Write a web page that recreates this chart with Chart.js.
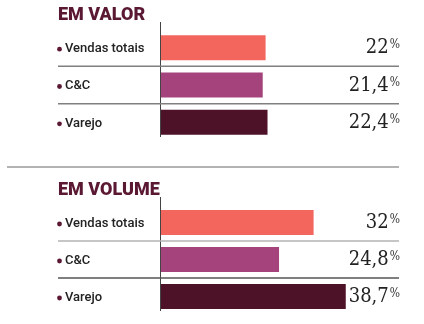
<!DOCTYPE html>
<html>
<head>
<meta charset="utf-8">
<script src="https://cdn.jsdelivr.net/npm/chart.js@4"></script>
<style>
  body { margin: 0; background: #fff; }
  .wrap { position: relative; width: 424px; height: 324px; }
  canvas { position: absolute; left: 0; }
  #panel1 { top: 0; }
  #panel2 { top: 175px; }
  .divider { position: absolute; left: 7px; top: 166px; width: 392px; height: 2px; background: #b3b3b3; }
</style>
</head>
<body>
<div class="wrap">
  <canvas id="panel1" width="424" height="150"></canvas>
  <div class="divider"></div>
  <canvas id="panel2" width="424" height="149"></canvas>
</div>
<script>
// data
const categories = ['Vendas totais', 'C&C', 'Varejo'];
const valorValues = [22, 21.4, 22.4];
const volumeValues = [32, 24.8, 38.7];
const panelTitles = ['EM VALOR', 'EM VOLUME'];

const barColors = ['#f2665e', '#a4437c', '#4e1228'];
const maroon = '#5a1832';

function fmt(v) {
  return String(v).replace('.', ',');
}

// labels, title, separators and values drawn around the bars
const decor = {
  id: 'decor',
  afterDraw(chart, args, opts) {
    const ctx = chart.ctx;
    const area = chart.chartArea;
    const yScale = chart.scales.y;
    const values = chart.data.datasets[0].data;
    ctx.save();

    // title
    ctx.fillStyle = maroon;
    ctx.font = '900 18px Roboto';
    ctx.textBaseline = 'alphabetic';
    ctx.textAlign = 'left';
    ctx.fillText(opts.title, 58, 20);

    // axis line
    ctx.strokeStyle = '#444';
    ctx.lineWidth = 1;
    ctx.beginPath();
    ctx.moveTo(area.left + 0.5, area.top - 7);
    ctx.lineTo(area.left + 0.5, area.bottom - 4);
    ctx.stroke();

    // separators between rows
    for (let i = 0; i < categories.length - 1; i++) {
      const y = (yScale.getPixelForValue(i) + yScale.getPixelForValue(i + 1)) / 2;
      ctx.strokeStyle = opts.sepColors[i];
      ctx.lineWidth = 1.5;
      ctx.beginPath();
      ctx.moveTo(58, y);
      ctx.lineTo(399, y);
      ctx.stroke();
    }

    categories.forEach((cat, i) => {
      const y = yScale.getPixelForValue(i);
      // dot
      ctx.fillStyle = maroon;
      ctx.beginPath();
      ctx.arc(59.5, y + 1.5, 2.4, 0, Math.PI * 2);
      ctx.fill();
      // label
      ctx.fillStyle = '#222';
      ctx.font = '500 13px Roboto';
      ctx.textBaseline = 'middle';
      ctx.textAlign = 'left';
      ctx.fillText(cat, 65, y + 1);

      // value + small %
      ctx.font = '12px "DejaVu Serif Condensed", "DejaVu Serif", serif';
      const pw = ctx.measureText('%').width;
      ctx.fillStyle = '#333';
      ctx.textBaseline = 'alphabetic';
      ctx.textAlign = 'left';
      ctx.fillText('%', 400 - pw, y + 0.5);
      ctx.font = '20px "DejaVu Serif Condensed", "DejaVu Serif", serif';
      ctx.fillStyle = '#222';
      ctx.textAlign = 'right';
      ctx.fillText(fmt(values[i]), 400 - pw - 1, y + 5.5);
    });
    ctx.restore();
  }
};

function makePanel(id, values, title, sepColors) {
  return new Chart(document.getElementById(id), {
    type: 'bar',
    data: {
      labels: categories,
      datasets: [{
        data: values,
        backgroundColor: barColors,
        borderWidth: 0,
        barPercentage: 0.67,
        categoryPercentage: 1
      }]
    },
    options: {
      indexAxis: 'y',
      responsive: false,
      animation: false,
      layout: { padding: { left: 160, right: 24, top: 29, bottom: 9 } },
      scales: {
        x: { display: false, min: 0, max: 50 },
        y: { display: false }
      },
      plugins: {
        legend: { display: false },
        tooltip: { enabled: false },
        decor: { title: title, sepColors: sepColors }
      }
    },
    plugins: [decor]
  });
}

makePanel('panel1', valorValues, panelTitles[0], ['#808080', '#808080']);
makePanel('panel2', volumeValues, panelTitles[1], ['#b3b3b3', '#555555']);
</script>
</body>
</html>
